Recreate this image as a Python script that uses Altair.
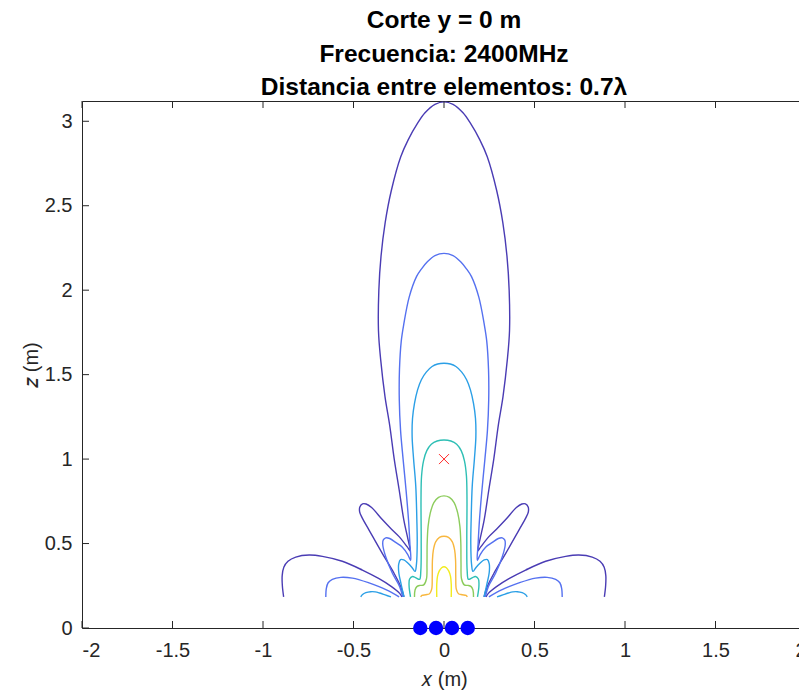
import altair as alt
import pandas as pd

# ---------------- values ----------------
X_TICKS = [-2, -1.5, -1, -0.5, 0, 0.5, 1, 1.5, 2]
Z_TICKS = [0, 0.5, 1, 1.5, 2, 2.5, 3]

LEVELS = ["n1", "n2", "n3", "n4", "n5", "n6", "n7"]
LEVEL_COLORS = ["#4a3cb4", "#5571f0", "#2b9fe6", "#2ebfb5", "#8ccc5c", "#f8b73e", "#f2ec1e"]

ELEMENT_X = [-0.131, -0.044, 0.044, 0.131]
ELEMENT_Z = [0.0, 0.0, 0.0, 0.0]
FOCUS_X = [0.0]
FOCUS_Z = [1.0]

# contour level 1 (outermost)
L1_FAR_LEFT = [(-0.886, 0.184), (-0.893, 0.25), (-0.894, 0.31), (-0.885, 0.36), (-0.862, 0.395),
               (-0.819, 0.420), (-0.745, 0.432), (-0.672, 0.424), (-0.562, 0.395), (-0.451, 0.343),
               (-0.359, 0.292), (-0.290, 0.245), (-0.245, 0.205), (-0.232, 0.184)]
L1_FAR_RIGHT = [(0.232, 0.184), (0.245, 0.205), (0.290, 0.245), (0.359, 0.292), (0.451, 0.343),
                (0.562, 0.395), (0.672, 0.424), (0.745, 0.432), (0.819, 0.420), (0.862, 0.395),
                (0.885, 0.36), (0.894, 0.31), (0.893, 0.25), (0.886, 0.184)]
L1_MAIN_LEFT = [(-0.221, 0.184), (-0.239, 0.245), (-0.276, 0.324), (-0.341, 0.442), (-0.414, 0.580),
                (-0.452, 0.652), (-0.466, 0.688), (-0.465, 0.716), (-0.450, 0.735), (-0.430, 0.734),
                (-0.400, 0.713), (-0.341, 0.642), (-0.290, 0.585), (-0.248, 0.541), (-0.203, 0.480),
                (-0.186, 0.455), (-0.198, 0.52), (-0.222, 0.64), (-0.248, 0.82), (-0.275, 1.00),
                (-0.300, 1.20), (-0.326, 1.37), (-0.350, 1.59), (-0.362, 1.76), (-0.360, 2.00),
                (-0.348, 2.20), (-0.325, 2.40), (-0.291, 2.59), (-0.239, 2.79), (-0.198, 2.89),
                (-0.145, 2.99), (-0.105, 3.05), (-0.050, 3.10), (0.0, 3.115)]
L1_MAIN_RIGHT = [(0.050, 3.10), (0.105, 3.05), (0.145, 2.99), (0.198, 2.89), (0.239, 2.79),
                 (0.291, 2.59), (0.325, 2.40), (0.348, 2.20), (0.360, 2.00), (0.362, 1.76),
                 (0.350, 1.59), (0.326, 1.37), (0.300, 1.20), (0.275, 1.00), (0.248, 0.82),
                 (0.222, 0.64), (0.198, 0.52), (0.186, 0.455), (0.203, 0.480), (0.248, 0.541),
                 (0.290, 0.585), (0.341, 0.642), (0.400, 0.713), (0.430, 0.734), (0.450, 0.735),
                 (0.465, 0.716), (0.466, 0.688), (0.452, 0.652), (0.414, 0.580), (0.341, 0.442),
                 (0.276, 0.324), (0.239, 0.245), (0.221, 0.184)]

# contour level 2
L2_FAR_LEFT = [(-0.653, 0.184), (-0.650, 0.235), (-0.640, 0.268), (-0.617, 0.288), (-0.570, 0.300),
               (-0.506, 0.295), (-0.414, 0.267), (-0.359, 0.245), (-0.293, 0.213), (-0.248, 0.184)]
L2_FAR_RIGHT = [(0.248, 0.184), (0.293, 0.213), (0.359, 0.245), (0.414, 0.267), (0.506, 0.295),
                (0.570, 0.300), (0.617, 0.288), (0.640, 0.268), (0.650, 0.235), (0.653, 0.184)]
L2_MAIN_LEFT = [(-0.228, 0.184), (-0.245, 0.245), (-0.285, 0.324), (-0.322, 0.422), (-0.338, 0.490),
                (-0.336, 0.520), (-0.322, 0.534), (-0.300, 0.530), (-0.265, 0.505), (-0.230, 0.478),
                (-0.200, 0.435), (-0.184, 0.400), (-0.188, 0.49), (-0.196, 0.64), (-0.210, 0.82),
                (-0.226, 1.00), (-0.240, 1.17), (-0.247, 1.35), (-0.246, 1.53), (-0.236, 1.70),
                (-0.222, 1.80), (-0.192, 1.96), (-0.152, 2.08), (-0.125, 2.125), (-0.092, 2.168),
                (-0.050, 2.205), (0.0, 2.218)]
L2_MAIN_RIGHT = [(0.050, 2.205), (0.092, 2.168), (0.125, 2.125), (0.152, 2.08), (0.192, 1.96),
                 (0.222, 1.80), (0.236, 1.70), (0.246, 1.53), (0.247, 1.35), (0.240, 1.17),
                 (0.226, 1.00), (0.210, 0.82), (0.196, 0.64), (0.188, 0.49), (0.184, 0.400),
                 (0.200, 0.435), (0.230, 0.478), (0.265, 0.505), (0.300, 0.530), (0.322, 0.534),
                 (0.336, 0.520), (0.338, 0.490), (0.322, 0.422), (0.285, 0.324), (0.245, 0.245),
                 (0.228, 0.184)]

# contour level 3
L3_FAR_LEFT = [(-0.460, 0.184), (-0.450, 0.198), (-0.432, 0.209), (-0.405, 0.215), (-0.380, 0.214),
               (-0.355, 0.207), (-0.325, 0.196), (-0.293, 0.184)]
L3_FAR_RIGHT = [(0.293, 0.184), (0.325, 0.196), (0.355, 0.207), (0.380, 0.214), (0.405, 0.215),
                (0.432, 0.209), (0.450, 0.198), (0.460, 0.184)]
L3_MAIN_LEFT = [(-0.221, 0.184), (-0.237, 0.26), (-0.250, 0.33), (-0.250, 0.38), (-0.240, 0.405),
                (-0.222, 0.403), (-0.200, 0.385), (-0.178, 0.36), (-0.160, 0.335), (-0.152, 0.38),
                (-0.148, 0.50), (-0.150, 0.64), (-0.156, 0.84), (-0.168, 1.00), (-0.176, 1.13),
                (-0.174, 1.24), (-0.163, 1.33), (-0.146, 1.41), (-0.125, 1.47), (-0.098, 1.515),
                (-0.066, 1.548), (-0.035, 1.563), (0.0, 1.567)]
L3_MAIN_RIGHT = [(0.035, 1.563), (0.066, 1.548), (0.098, 1.515), (0.125, 1.47), (0.146, 1.41),
                 (0.163, 1.33), (0.174, 1.24), (0.176, 1.13), (0.168, 1.00), (0.156, 0.84),
                 (0.150, 0.64), (0.148, 0.50), (0.152, 0.38), (0.160, 0.335), (0.178, 0.36),
                 (0.200, 0.385), (0.222, 0.403), (0.240, 0.405), (0.250, 0.38), (0.250, 0.33),
                 (0.237, 0.26), (0.221, 0.184)]

# contour level 4
L4_MAIN_LEFT = [(-0.185, 0.184), (-0.193, 0.25), (-0.190, 0.29), (-0.174, 0.305), (-0.155, 0.297),
                (-0.135, 0.288), (-0.128, 0.34), (-0.126, 0.52), (-0.127, 0.76), (-0.124, 0.90),
                (-0.113, 0.99), (-0.095, 1.05), (-0.070, 1.088), (-0.038, 1.107), (0.0, 1.113)]
L4_MAIN_RIGHT = [(0.038, 1.107), (0.070, 1.088), (0.095, 1.05), (0.113, 0.99), (0.124, 0.90),
                 (0.127, 0.76), (0.126, 0.52), (0.128, 0.34), (0.135, 0.288), (0.155, 0.297),
                 (0.174, 0.305), (0.190, 0.29), (0.193, 0.25), (0.185, 0.184)]

# contour level 5
L5_MAIN_LEFT = [(-0.163, 0.184), (-0.160, 0.225), (-0.150, 0.245), (-0.133, 0.252), (-0.112, 0.255),
                (-0.097, 0.29), (-0.094, 0.38), (-0.093, 0.50), (-0.088, 0.60), (-0.076, 0.68),
                (-0.056, 0.742), (-0.030, 0.773), (0.0, 0.782)]
L5_MAIN_RIGHT = [(0.030, 0.773), (0.056, 0.742), (0.076, 0.68), (0.088, 0.60), (0.093, 0.50),
                 (0.094, 0.38), (0.097, 0.29), (0.112, 0.255), (0.133, 0.252), (0.150, 0.245),
                 (0.160, 0.225), (0.163, 0.184)]

# contour level 6
L6_MAIN_LEFT = [(-0.129, 0.184), (-0.122, 0.193), (-0.100, 0.197), (-0.080, 0.203), (-0.068, 0.23),
                (-0.065, 0.30), (-0.064, 0.40), (-0.059, 0.46), (-0.046, 0.51), (-0.025, 0.536),
                (0.0, 0.543)]
L6_MAIN_RIGHT = [(0.025, 0.536), (0.046, 0.51), (0.059, 0.46), (0.064, 0.40), (0.065, 0.30),
                 (0.068, 0.23), (0.080, 0.203), (0.100, 0.197), (0.122, 0.193), (0.129, 0.184)]

# contour level 7 (innermost)
L7_MAIN_LEFT = [(-0.040, 0.184), (-0.040, 0.26), (-0.036, 0.305), (-0.026, 0.338), (-0.013, 0.357),
                (0.0, 0.363)]
L7_MAIN_RIGHT = [(0.013, 0.357), (0.026, 0.338), (0.036, 0.305), (0.040, 0.26), (0.040, 0.184)]

SEGMENTS = [
    ("n1", L1_FAR_LEFT), ("n1", L1_FAR_RIGHT), ("n1", L1_MAIN_LEFT + L1_MAIN_RIGHT),
    ("n2", L2_FAR_LEFT), ("n2", L2_FAR_RIGHT), ("n2", L2_MAIN_LEFT + L2_MAIN_RIGHT),
    ("n3", L3_FAR_LEFT), ("n3", L3_FAR_RIGHT), ("n3", L3_MAIN_LEFT + L3_MAIN_RIGHT),
    ("n4", L4_MAIN_LEFT + L4_MAIN_RIGHT),
    ("n5", L5_MAIN_LEFT + L5_MAIN_RIGHT),
    ("n6", L6_MAIN_LEFT + L6_MAIN_RIGHT),
    ("n7", L7_MAIN_LEFT + L7_MAIN_RIGHT),
]

rows = []
for k, (lev, pts) in enumerate(SEGMENTS):
    for i, (xv, zv) in enumerate(pts):
        rows.append({"seg": k, "level": lev, "i": i, "x": xv, "z": zv})
contours = pd.DataFrame(rows)
elements = pd.DataFrame({"x": ELEMENT_X, "z": ELEMENT_Z})
focus = pd.DataFrame({"x": FOCUS_X, "z": FOCUS_Z})
xticks = pd.DataFrame({"x": X_TICKS})
zticks = pd.DataFrame({"z": Z_TICKS})

# ---------------- chart ----------------
W, H = 724, 527
AX = "#262626"
FONT = "Liberation Sans"
xs = alt.Scale(domain=[-2, 2], nice=False, zero=False)
zs = alt.Scale(domain=[0, 3.12], nice=False, zero=False)
label_expr = ("datum.value < 0 ? '-' + format(-datum.value, '.1~f') "
              ": format(datum.value, '.1~f')")
AXIS_STYLE = dict(domain=False, ticks=False, grid=False,
                  labelFont=FONT, labelFontSize=20, labelColor=AX,
                  titleFont=FONT, titleFontSize=20, titleFontWeight="normal", titleColor=AX)
x_axis = alt.Axis(values=X_TICKS, labelExpr=label_expr, title="𝑥 (m)",
                  labelPadding=12, titlePadding=9, **AXIS_STYLE)
z_axis = alt.Axis(values=Z_TICKS, labelExpr=label_expr, title="𝑧 (m)",
                  labelPadding=10, titlePadding=3, **AXIS_STYLE)
X = alt.X("x:Q", scale=xs, axis=x_axis)
Z = alt.Y("z:Q", scale=zs, axis=z_axis)

lines = alt.Chart(contours).mark_line(strokeWidth=1.4, interpolate="catmull-rom", clip=True).encode(
    x=X, y=Z,
    color=alt.Color("level:N", scale=alt.Scale(domain=LEVELS, range=LEVEL_COLORS), legend=None),
    detail="seg:N",
    order="i:Q",
)

cross = alt.Chart(focus).mark_point(
    shape="M -1 -1 L 1 1 M 1 -1 L -1 1", filled=False, color="#ff2a2a", strokeWidth=1, size=100, opacity=1
).encode(x=X, y=Z)

dots = alt.Chart(elements).mark_circle(color="#0000ff", size=210, opacity=1, clip=False).encode(x=X, y=Z)

tick_bottom = alt.Chart(xticks).mark_rule(color=AX, strokeWidth=1).encode(
    x=X, y=alt.value(H), y2=alt.value(H - 7))
tick_top = alt.Chart(xticks).mark_rule(color=AX, strokeWidth=1).encode(
    x=X, y=alt.value(0), y2=alt.value(7))
tick_left = alt.Chart(zticks).mark_rule(color=AX, strokeWidth=1).encode(
    y=Z, x=alt.value(0), x2=alt.value(7))
tick_right = alt.Chart(zticks).mark_rule(color=AX, strokeWidth=1).encode(
    y=Z, x=alt.value(W), x2=alt.value(W - 7))

chart = alt.layer(lines, tick_bottom, tick_top, tick_left, tick_right, cross, dots).properties(
    width=W, height=H,
    padding={"left": 74, "top": 93, "right": -7, "bottom": 63},
    autosize=alt.AutoSizeParams(type="none"),
    background="white",
    title=alt.TitleParams(
        text=["Corte y = 0 m", "Frecuencia: 2400MHz", "Distancia entre elementos: 0.7λ"],
        font=FONT, fontSize=24.5, fontWeight="bold", color="#000000",
        lineHeight=33.5, baseline="bottom", offset=-24, anchor="middle",
    ),
).configure_view(
    stroke=AX, strokeWidth=1
).configure_axis(
    domain=False, ticks=False, grid=False,
    labelFont=FONT, labelFontSize=20, labelColor=AX,
    titleFont=FONT, titleFontSize=20, titleFontWeight="normal", titleColor=AX,
)

chart.save("out.html", embed_options={"renderer": "svg", "actions": False})
